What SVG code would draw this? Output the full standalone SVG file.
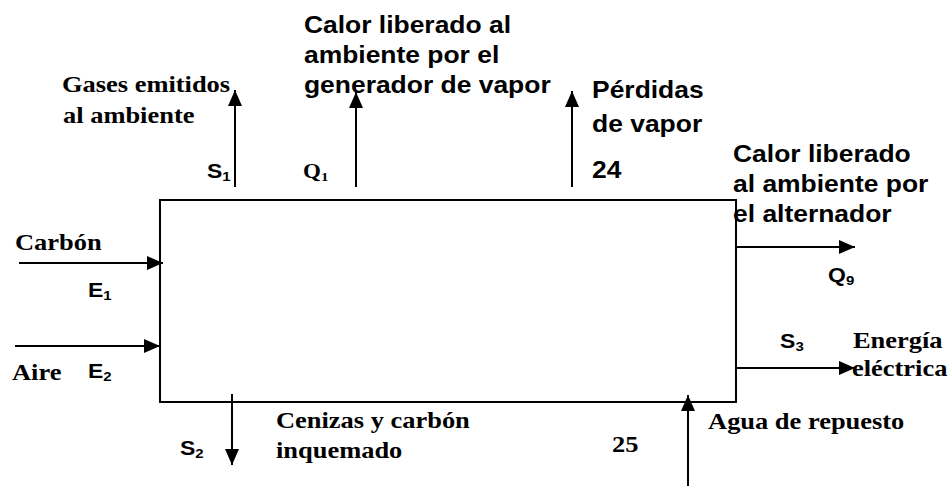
<svg xmlns="http://www.w3.org/2000/svg" width="950" height="486" viewBox="0 0 950 486">
<style>
.ln{stroke:#000;stroke-width:2;fill:none}
.tr{font-family:"Liberation Serif","Times New Roman",serif;font-weight:bold;font-size:23px;fill:#000}
.ar{font-family:"Liberation Sans",Arial,sans-serif;font-weight:bold;font-size:23px;fill:#000}
.sy{font-family:"Liberation Sans",Arial,sans-serif;font-weight:bold;font-size:20px;fill:#000}
.sq{font-family:"Liberation Serif","Times New Roman",serif;font-weight:bold;font-size:20px;fill:#000}
.sub{font-size:13px}
</style>
<defs>
<marker id="ah" markerUnits="userSpaceOnUse" markerWidth="16" markerHeight="14" refX="16" refY="7" orient="auto">
<path d="M0,0 L16,7 L0,14 z" fill="#000"/>
</marker>
</defs>
<rect width="950" height="486" fill="#fff"/>
<g id="system">
<rect class="ln" x="160" y="200" width="576" height="202"/>
</g>
<g id="connectors">
<line class="ln" x1="235" y1="187" x2="235" y2="90" marker-end="url(#ah)"/>
<line class="ln" x1="356" y1="187" x2="356" y2="92" marker-end="url(#ah)"/>
<line class="ln" x1="572" y1="187" x2="572" y2="91" marker-end="url(#ah)"/>
<line class="ln" x1="19" y1="263" x2="163" y2="263" marker-end="url(#ah)"/>
<line class="ln" x1="15" y1="346" x2="160" y2="346" marker-end="url(#ah)"/>
<line class="ln" x1="736" y1="247" x2="855" y2="247" marker-end="url(#ah)"/>
<line class="ln" x1="736" y1="368" x2="855" y2="368" marker-end="url(#ah)"/>
<line class="ln" x1="232" y1="394" x2="232" y2="465" marker-end="url(#ah)"/>
<line class="ln" x1="688" y1="486" x2="688" y2="395" marker-end="url(#ah)"/>
</g>
<g transform="scale(1.15,1)">
<g id="gases">
<text class="tr" x="53.9" y="92">Gases emitidos</text>
<text class="tr" x="54.8" y="123">al ambiente</text>
<text class="sy" x="180" y="178">S<tspan class="sub" dy="3">1</tspan></text>
</g>
<g id="calor-generador">
<text class="ar" x="264.3" y="33">Calor liberado al</text>
<text class="ar" x="264.3" y="63">ambiente por el</text>
<text class="ar" x="264.3" y="93">generador de vapor</text>
<text class="sq" x="263.5" y="178">Q<tspan class="sub" dy="3">1</tspan></text>
</g>
<g id="perdidas">
<text class="ar" x="514.8" y="98">Pérdidas</text>
<text class="ar" x="514.8" y="132">de vapor</text>
<text class="ar" x="514.8" y="178">24</text>
</g>
<g id="calor-alternador">
<text class="ar" x="637.4" y="162">Calor liberado</text>
<text class="ar" x="637.4" y="192">al ambiente por</text>
<text class="ar" x="637.4" y="222">el alternador</text>
<text class="sy" x="720" y="282">Q<tspan class="sub" dy="3">9</tspan></text>
</g>
<g id="carbon">
<text class="tr" x="13" y="250">Carbón</text>
<text class="sy" x="76.5" y="297">E<tspan class="sub" dy="3">1</tspan></text>
</g>
<g id="aire">
<text class="tr" x="10.4" y="380">Aire</text>
<text class="sy" x="76.5" y="378">E<tspan class="sub" dy="3">2</tspan></text>
</g>
<g id="cenizas">
<text class="sy" x="156.5" y="455">S<tspan class="sub" dy="3">2</tspan></text>
<text class="tr" x="240" y="428">Cenizas y carbón</text>
<text class="tr" x="240" y="458">inquemado</text>
</g>
<g id="agua">
<text class="tr" x="532.2" y="452">25</text>
<text class="tr" x="615.7" y="429">Agua de repuesto</text>
</g>
<g id="energia">
<text class="sy" x="678.3" y="348">S<tspan class="sub" dy="3">3</tspan></text>
<text class="tr" x="741.7" y="348">Energía</text>
<text class="tr" x="740.9" y="376">eléctrica</text>
</g>
</g>
</svg>
